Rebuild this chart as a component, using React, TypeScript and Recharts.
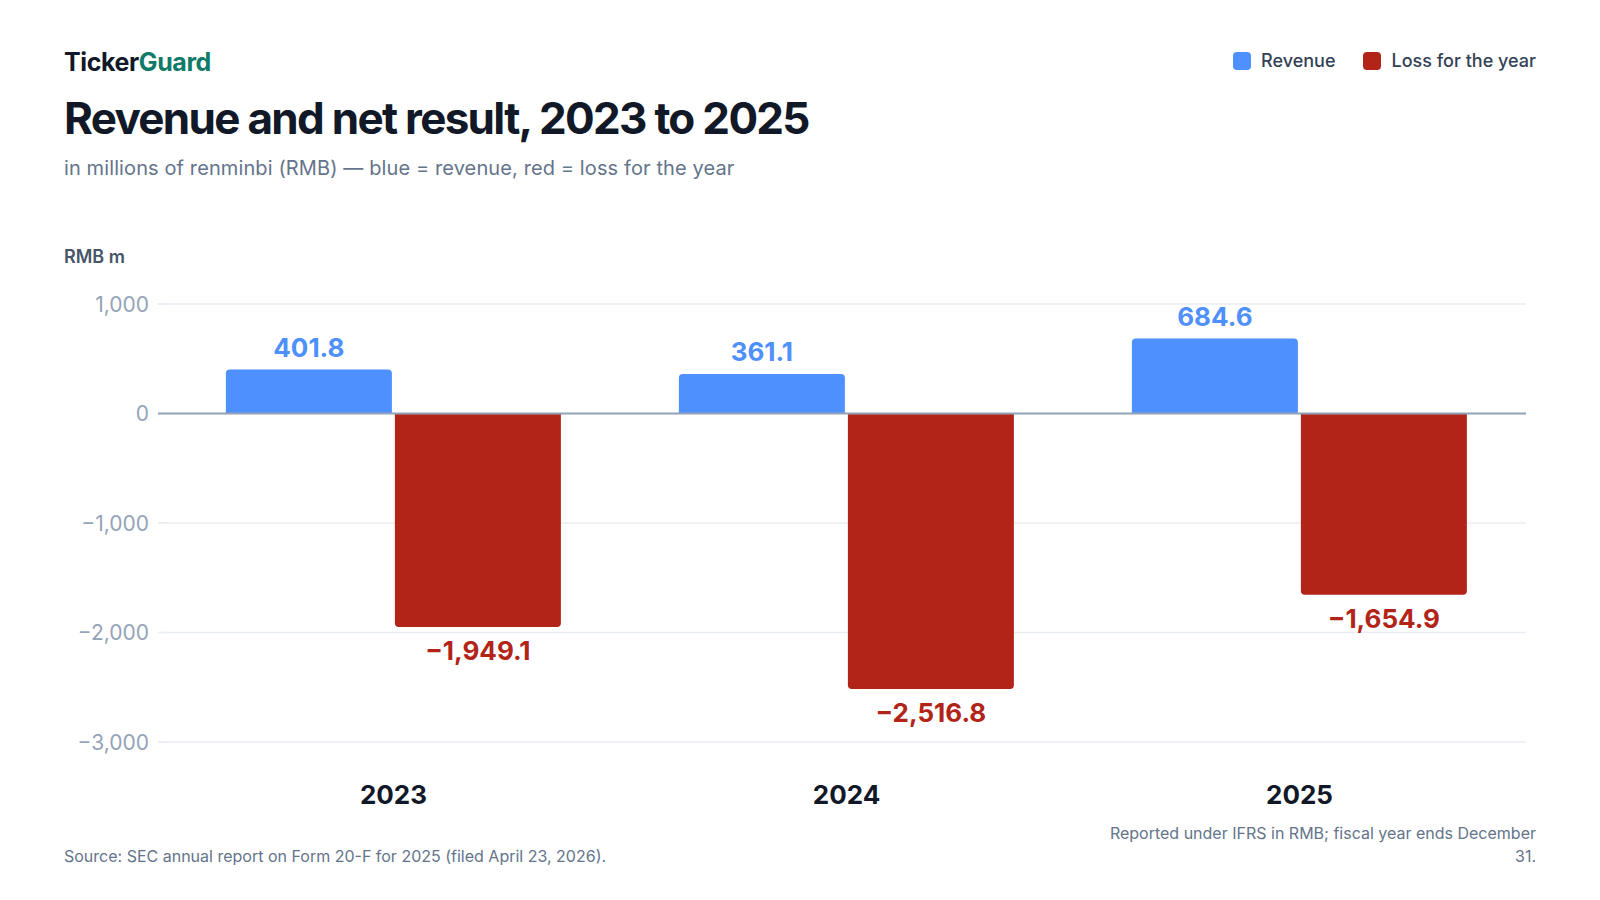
import { BarChart, Bar, CartesianGrid, XAxis, YAxis, ReferenceLine, LabelList } from 'recharts'

const YEARS = ['2023', '2024', '2025']
const REVENUE = [401.8, 361.1, 684.6]
const LOSS = [-1949.1, -2516.8, -1654.9]
const Y_TICKS = [-3000, -2000, -1000, 0, 1000]

const BLUE = '#4d90fe'
const RED = '#b22318'
const GRID = '#e8edf3'
const ZERO = '#94a3b8'
const FONT = 'Inter, "Noto Sans", sans-serif'

const data = YEARS.map((year, i) => ({ year, revenue: REVENUE[i], loss: LOSS[i] }))

const fmtNum = (v: number, digits = 0) => {
  const s = Math.abs(v).toLocaleString('en-US', {
    minimumFractionDigits: digits,
    maximumFractionDigits: digits,
  })
  return v < 0 ? `\u2212${s}` : s
}

const makeLabel = (color: string) => (props: any) => {
  const { x, y, width, height, value } = props
  const top = Math.min(y, y + height)
  const bottom = Math.max(y, y + height)
  const cy = value >= 0 ? top - 22 : bottom + 24
  return (
    <text
      x={x + width / 2}
      y={cy}
      dy="0.36em"
      textAnchor="middle"
      fill={color}
      fontSize={26}
      fontWeight={700}
      fontFamily={FONT}
    >
      {fmtNum(value, 1)}
    </text>
  )
}

const YearTick = (props: any) => {
  const { x, y, payload } = props
  return (
    <text x={x} y={y} dy={62} textAnchor="middle" fill="#111827" fontSize={26} fontWeight={700} fontFamily={FONT}>
      {payload.value}
    </text>
  )
}

// y tick: label plus a short tick line, darker on the zero line
const ValueTick = (props: any) => {
  const { x, y, payload } = props
  return (
    <g>
      <line x1={x + 9} x2={x + 18} y1={y} y2={y} stroke={payload.value === 0 ? ZERO : GRID} strokeWidth={payload.value === 0 ? 2 : 1.5} />
      <text x={x} y={y} dy="0.36em" textAnchor="end" fill="#94a3b8" fontSize={21} fontFamily={FONT}>
        {fmtNum(payload.value)}
      </text>
    </g>
  )
}

const Swatch = ({ color }: { color: string }) => (
  <span style={{ display: 'inline-block', width: 18, height: 18, borderRadius: 4, background: color, marginRight: 10 }} />
)

const App = () => {
  return (
    <div
      style={{
        position: 'fixed',
        left: 0,
        top: 0,
        width: 1600,
        height: 900,
        background: '#fff',
        fontFamily: FONT,
        overflow: 'hidden',
      }}
    >
      <div style={{ position: 'absolute', left: 64, top: 47, lineHeight: '30px', fontSize: 25, fontWeight: 700, letterSpacing: -0.4 }}>
        <span style={{ color: '#111827' }}>Ticker</span>
        <span style={{ color: '#0f7a68' }}>Guard</span>
      </div>
      <div
        style={{
          position: 'absolute',
          left: 64,
          top: 92,
          lineHeight: '52px',
          fontSize: 44,
          fontWeight: 700,
          color: '#111827',
          letterSpacing: -1.7,
          whiteSpace: 'nowrap',
        }}
      >
        Revenue and net result, 2023 to 2025
      </div>
      <div
        style={{
          position: 'absolute',
          left: 64,
          top: 154,
          lineHeight: '28px',
          fontSize: 20,
          color: '#64748b',
          letterSpacing: 0.11,
          whiteSpace: 'nowrap',
        }}
      >
        in millions of renminbi (RMB) — blue = revenue, red = loss for the year
      </div>
      <div style={{ position: 'absolute', left: 64, top: 245, lineHeight: '24px', fontSize: 18, fontWeight: 600, color: '#475569' }}>
        RMB m
      </div>

      <div
        style={{
          position: 'absolute',
          right: 64,
          top: 48,
          lineHeight: '26px',
          fontSize: 18,
          fontWeight: 500,
          color: '#334155',
          display: 'flex',
          alignItems: 'center',
          gap: 28,
        }}
      >
        <span style={{ display: 'flex', alignItems: 'center' }}>
          <Swatch color={BLUE} />
          Revenue
        </span>
        <span style={{ display: 'flex', alignItems: 'center' }}>
          <Swatch color={RED} />
          Loss for the year
        </span>
      </div>

      <div style={{ position: 'absolute', left: 0, top: 0 }}>
        <BarChart
          width={1600}
          height={900}
          data={data}
          margin={{ top: 304, right: 74, bottom: 98, left: 67 }}
          barCategoryGap="13%"
          barGap={3}
        >
          <CartesianGrid vertical={false} stroke={GRID} strokeWidth={1.5} />
          <XAxis
            dataKey="year"
            axisLine={false}
            tickLine={false}
            tickSize={0}
            tickMargin={0}
            height={60}
            tick={<YearTick />}
          />
          <YAxis
            domain={[-3000, 1000]}
            ticks={Y_TICKS}
            width={100}
            axisLine={false}
            tickLine={{ stroke: GRID, strokeWidth: 1.5 }}
            tickSize={9}
            tickMargin={9}
            tick={<ValueTick />}
            interval={0}
          />
          <ReferenceLine y={0} stroke={ZERO} strokeWidth={2} />
          <Bar dataKey="revenue" fill={BLUE} radius={[4, 4, 0, 0]} isAnimationActive={false}>
            <LabelList dataKey="revenue" content={makeLabel(BLUE)} />
          </Bar>
          <Bar dataKey="loss" fill={RED} radius={[4, 4, 0, 0]} isAnimationActive={false}>
            <LabelList dataKey="loss" content={makeLabel(RED)} />
          </Bar>
        </BarChart>
      </div>

      <div style={{ position: 'absolute', left: 64, top: 845, lineHeight: '23px', fontSize: 16, color: '#64748b', whiteSpace: 'nowrap' }}>
        Source: SEC annual report on Form 20-F for 2025 (filed April 23, 2026).
      </div>
      <div
        style={{
          position: 'absolute',
          right: 64,
          top: 822,
          width: 440,
          lineHeight: '23px',
          fontSize: 16,
          color: '#64748b',
          textAlign: 'right',
        }}
      >
        Reported under IFRS in RMB; fiscal year ends December 31.
      </div>
    </div>
  )
}

export default App
